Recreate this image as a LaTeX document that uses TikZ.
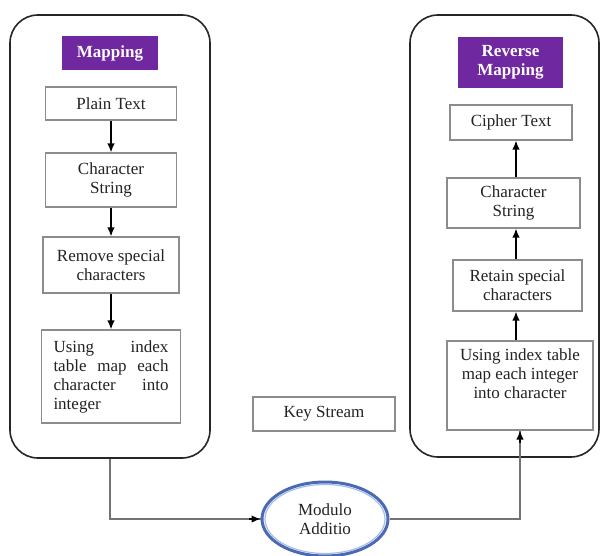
\documentclass[tikz,border=0pt]{standalone}
\usepackage{fontspec}
\setmainfont{Liberation Serif}
\usetikzlibrary{shapes.geometric,arrows.meta}
\definecolor{purp}{RGB}{112,40,160}
\definecolor{boxgray}{RGB}{140,140,140}
\definecolor{ellblue}{RGB}{75,105,180}
\definecolor{elllight}{RGB}{165,190,230}
\definecolor{txt}{RGB}{35,35,35}
\begin{document}
\begin{tikzpicture}[x=1pt,y=-1pt,
  font=\fontsize{17}{19}\selectfont,
  bigbox/.style={draw=black!85,line width=1.6pt,rounded corners=28pt,minimum width=#1},
  stepbox/.style={draw=boxgray,line width=1.2pt,fill=white,align=center,text=txt,inner sep=0pt},
  titlebox/.style={fill=purp,text=white,font=\fontsize{17}{19}\selectfont\bfseries,align=center,inner sep=0pt},
  arr/.style={draw=black,line width=1.3pt,-{Latex[length=9pt,width=7.5pt]}},
  conn/.style={draw=black!55,line width=1.6pt},
]
\useasboundingbox (0,0) rectangle (602,556);
% left group
\node[bigbox=200pt,minimum height=443pt] (bigL) at (110,236.5) {};
\node[titlebox,minimum width=96pt,minimum height=34pt] (mapL) at (110,53) {Mapping};
\node[stepbox,minimum width=131pt,minimum height=33pt] (plainL) at (111,103.5) {Plain Text};
\node[stepbox,minimum width=131pt,minimum height=54pt] (charL) at (111,180) {Character\\String};
\node[stepbox,minimum width=136pt,minimum height=56pt] (remL) at (111,265) {Remove special\\characters};
\node[stepbox,minimum width=139pt,minimum height=93pt,align=left] (useL) at (111,376.5)
  {\makebox[115pt][s]{Using index}\\\makebox[115pt][s]{table map each}\\\makebox[115pt][s]{character into}\\integer};
\draw[arr] (plainL.south) -- (plainL.south |- charL.north);
\draw[arr] (charL.south) -- (charL.south |- remL.north);
\draw[arr] (remL.south) -- (remL.south |- useL.north);
% key stream
\node[stepbox,minimum width=142pt,minimum height=34pt] (key) at (324,414) {Key Stream};
% ellipse
\node[ellipse,draw=ellblue,line width=3pt,fill=white,minimum width=126pt,minimum height=74pt,inner sep=0pt,align=center,text=txt] (ell) at (325,519) {Modulo\\Additio};
\draw[elllight,line width=1.2pt] (ell.center) ellipse [x radius=60pt,y radius=34.5pt];
% right group
\node[bigbox=189pt,minimum height=442pt] (bigR) at (504.5,236) {};
\node[titlebox,minimum width=105pt,minimum height=51pt] (mapR) at (510.5,62.5) {Reverse\\Mapping};
\node[stepbox,minimum width=122pt,minimum height=35pt] (cipher) at (511,122.5) {Cipher Text};
\node[stepbox,minimum width=133pt,minimum height=50pt] (charR) at (513.5,203) {Character\\String};
\node[stepbox,minimum width=129pt,minimum height=51pt] (retain) at (517.5,285.5) {Retain special\\characters};
\node[stepbox,minimum width=146pt,minimum height=89pt] (useR) at (520,385.5) {Using index table\\map each integer\\into character\\\strut};
\coordinate (upx) at (516,0);
\draw[arr] (upx |- charR.north) -- (upx |- cipher.south);
\draw[arr] (upx |- retain.north) -- (upx |- charR.south);
\draw[arr] (upx |- useR.north) -- (upx |- retain.south);
% connectors
\draw[conn] (bigL.south) |- (ell.west);
\draw[arr] ([xshift=-12pt]ell.west) -- (ell.west);
\draw[conn] (ell.east) -| (useR.south);
\draw[arr] ([yshift=-12pt]useR.south) -- (useR.south);
\end{tikzpicture}
\end{document}
